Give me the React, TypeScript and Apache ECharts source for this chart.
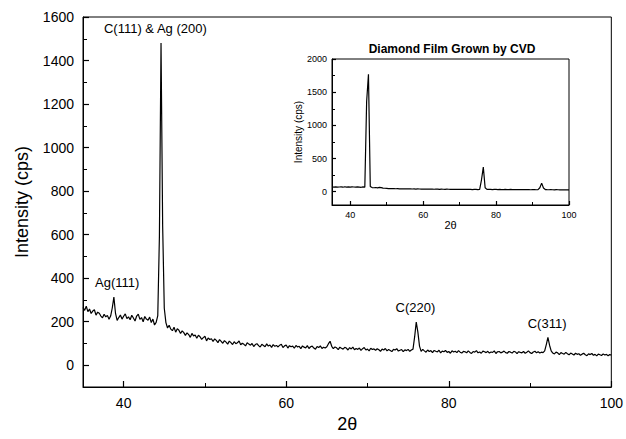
import React, { useEffect, useRef } from "react";
import * as echarts from "echarts";

// Main XRD scan: 2θ from 35 to 100 in steps of 0.2
const mainStart = 35;
const mainStep = 0.2;
const mainIntensity = [
  265, 252, 271, 246, 258, 238, 249, 255, 230, 244,
  239, 226, 218, 234, 222, 229, 211, 226, 263, 313,
  238, 206, 219, 231, 212, 225, 236, 214, 222, 209,
  230, 217, 203, 226, 235, 211, 219, 200, 224, 212,
  207, 221, 196, 212, 185, 197, 228, 590, 1480, 640,
  262, 196, 171, 184, 166, 159, 175, 152, 168, 161,
  146, 158, 150, 137, 149, 141, 128, 146, 135, 139,
  124, 138, 131, 119, 127, 133, 112, 125, 118, 122,
  109, 121, 114, 104, 118, 110, 101, 113, 106, 97,
  111, 104, 95, 108, 99, 103, 112, 94, 101, 96,
  89, 103, 97, 92, 100, 86, 95, 99, 90, 84,
  96, 91, 85, 98, 88, 93, 82, 95, 87, 91,
  84, 92, 96, 81, 89, 93, 79, 90, 85, 88,
  78, 91, 84, 87, 76, 89, 83, 80, 90, 77,
  85, 88, 79, 74, 86, 81, 89, 77, 83, 79,
  85, 99, 110, 87, 76, 84, 80, 72, 83, 78,
  74, 82, 79, 70, 81, 75, 83, 71, 77, 73,
  79, 68, 76, 81, 70, 74, 66, 78, 72, 75,
  69, 76, 71, 64, 74, 70, 77, 66, 72, 68,
  63, 73, 70, 76, 65, 69, 72, 62, 71, 67,
  73, 64, 70, 74, 130, 198, 152, 88, 64, 73,
  66, 60, 70, 63, 67, 58, 68, 64, 61, 69,
  57, 65, 62, 68, 59, 63, 55, 66, 61, 64,
  58, 67, 60, 56, 64, 62, 57, 66, 59, 54,
  63, 60, 67, 57, 61, 55, 65, 62, 58, 64,
  56, 61, 59, 66, 54, 62, 63, 57, 60, 65,
  58, 55, 63, 60, 56, 64, 61, 53, 62, 59,
  57, 63, 55, 60, 66, 58, 54, 61, 64, 57,
  62, 56, 60, 58, 66, 95, 128, 92, 66, 56,
  52, 60, 57, 49, 58, 54, 51, 59, 53, 48,
  56, 52, 47, 55, 50, 53, 46, 51, 55, 48,
  44, 52, 49, 54, 46, 50, 43, 51, 48, 45,
  52, 47, 50, 44, 49, 47,
];

// Inset scan: 2θ from 35 to 100 in steps of 0.5
const insetStart = 35;
const insetStep = 0.5;
const insetIntensity = [
  72, 70, 74, 69, 71, 73, 68, 75, 70, 72,
  69, 74, 71, 68, 73, 70, 67, 72, 69, 1360,
  1770, 80, 62, 60, 64, 58, 66, 61, 55, 52,
  50, 48, 49, 46, 47, 45, 46, 44, 45, 43,
  44, 42, 43, 44, 41, 42, 40, 42, 41, 39,
  40, 38, 39, 40, 38, 39, 37, 39, 38, 36,
  39, 37, 36, 38, 37, 35, 36, 37, 35, 36,
  37, 35, 34, 36, 35, 34, 36, 33, 34, 35,
  33, 35, 180, 370, 60, 36, 34, 35, 33, 34,
  35, 33, 34, 32, 33, 34, 32, 33, 34, 32,
  33, 31, 32, 33, 31, 32, 33, 31, 32, 30,
  31, 32, 30, 31, 60, 130, 55, 33, 31, 30,
  32, 30, 29, 31, 30, 29, 28, 30, 29, 28,
  29,
];

const mainXTicks = [40, 60, 80, 100];
const mainXMinor = [50, 70, 90];
const mainYTicks = [0, 200, 400, 600, 800, 1000, 1200, 1400, 1600];
const mainYMinor = [100, 300, 500, 700, 900, 1100, 1300, 1500];
const insetXTicks = [40, 60, 80, 100];
const insetXMinor = [50, 70, 90];
const insetYTicks = [0, 500, 1000, 1500, 2000];
const insetYMinor = [250, 750, 1250, 1750];

const peakLabels = ["C(111) & Ag (200)", "Ag(111)", "C(220)", "C(311)"];
const peakLabelTheta = [43.9, 39.2, 75.9, 92.1];
const peakLabelIntensity = [1545, 382, 267, 193];

const FONT = "'Liberation Sans', Arial, Helvetica, sans-serif";
const plain = (v: number) => String(v);

export default function App() {
  const ref = useRef<HTMLDivElement>(null);
  useEffect(() => {
    if (!ref.current) return;
    const chart = echarts.init(ref.current, undefined, { renderer: "svg" });
    const mainData = mainIntensity.map((v, i) => [mainStart + i * mainStep, v]);
    const insetData = insetIntensity.map((v, i) => [insetStart + i * insetStep, v]);

    const majorAxis = (pos: string, gridIndex: number, min: number, max: number, ticks: number[], fs: number, len: number, name: string, nameSize: number, nameGap: number, margin: number) => ({
      type: "value", gridIndex, min, max, position: pos,
      name, nameLocation: "middle", nameGap,
      nameTextStyle: { fontFamily: FONT, fontSize: nameSize, color: "#000" },
      axisLine: { show: true, onZero: false, lineStyle: { color: "#000", width: 1 } },
      axisTick: { show: true, inside: true, length: len, customValues: ticks, lineStyle: { color: "#000", width: 1.2 } },
      axisLabel: { show: true, customValues: ticks, formatter: plain, fontFamily: FONT, fontSize: fs, color: "#000", margin },
      splitLine: { show: false },
    });
    const minorAxis = (pos: string, gridIndex: number, min: number, max: number, ticks: number[], len: number) => ({
      type: "value", gridIndex, min, max, position: pos,
      axisLine: { show: false, onZero: false },
      axisTick: { show: true, inside: true, length: len, customValues: ticks, lineStyle: { color: "#000", width: 1 } },
      axisLabel: { show: false },
      splitLine: { show: false },
    });

    chart.setOption({
      animation: false,
      backgroundColor: "#fff",
      grid: [
        { left: 83, top: 17, right: 14, bottom: 52, show: true, borderColor: "#000", borderWidth: 1, backgroundColor: "transparent" },
        { left: 332, top: 59, width: 237, height: 146, show: true, borderColor: "#000", borderWidth: 1, backgroundColor: "#fff" },
      ],
      xAxis: [
        majorAxis("bottom", 0, 35, 100, mainXTicks, 14, 6, "2θ", 18, 25, 9),
        minorAxis("bottom", 0, 35, 100, mainXMinor, 4),
        majorAxis("bottom", 1, 35, 100, insetXTicks, 9, 4, "2θ", 11, 14, 5),
        minorAxis("bottom", 1, 35, 100, insetXMinor, 3),
      ],
      yAxis: [
        majorAxis("left", 0, -100, 1600, mainYTicks, 14, 6, "Intensity (cps)", 18, 52, 9),
        minorAxis("left", 0, -100, 1600, mainYMinor, 4),
        majorAxis("left", 1, -200, 2000, insetYTicks, 9, 4, "Intensity (cps)", 10, 28, 5),
        minorAxis("left", 1, -200, 2000, insetYMinor, 3),
      ],
      graphic: [
        {
          type: "text", x: 452, y: 49, z: 100,
          style: {
            text: "Diamond Film Grown by CVD", fontFamily: FONT, fontSize: 12, fontWeight: "bold",
            fill: "#000", textAlign: "center", textVerticalAlign: "middle", align: "center", verticalAlign: "middle",
          },
        },
      ],
      series: [
        {
          type: "line", xAxisIndex: 0, yAxisIndex: 0, data: mainData, showSymbol: false, symbol: "none",
          lineStyle: { color: "#000", width: 1.2 }, silent: true,
          markPoint: {
            symbol: "circle", symbolSize: 0, silent: true,
            label: { show: true, position: "inside", formatter: "{b}", fontFamily: FONT, fontSize: 13, color: "#000" },
            data: peakLabels.map((t, i) => ({ name: t, coord: [peakLabelTheta[i], peakLabelIntensity[i]] })),
          },
        },
        {
          type: "line", xAxisIndex: 2, yAxisIndex: 2, data: insetData, showSymbol: false, symbol: "none",
          lineStyle: { color: "#000", width: 1.2 }, silent: true,
        },
      ],
    });
    return () => chart.dispose();
  }, []);
  return <div ref={ref} style={{ width: 626, height: 439, position: "absolute", left: 0, top: 0 }} />;
}
